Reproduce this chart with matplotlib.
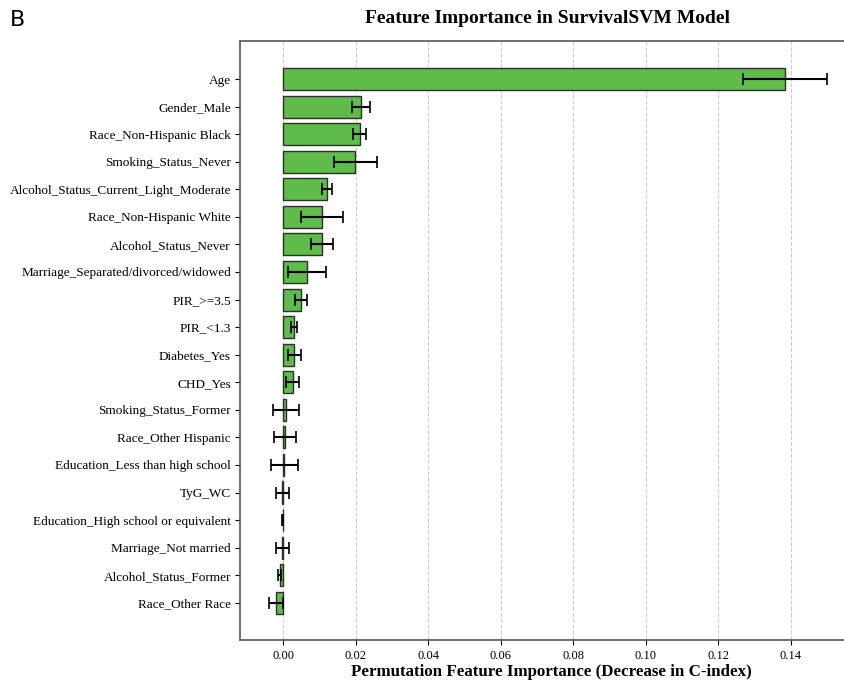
import matplotlib
matplotlib.use("Agg")
import matplotlib.pyplot as plt
import numpy as np

features = ["Age", "Gender_Male", "Race_Non-Hispanic Black", "Smoking_Status_Never",
            "Alcohol_Status_Current_Light_Moderate", "Race_Non-Hispanic White",
            "Alcohol_Status_Never", "Marriage_Separated/divorced/widowed",
            "PIR_>=3.5", "PIR_<1.3", "Diabetes_Yes", "CHD_Yes",
            "Smoking_Status_Former", "Race_Other Hispanic", "Education_Less than high school",
            "TyG_WC", "Education_High school or equivalent", "Marriage_Not married",
            "Alcohol_Status_Former", "Race_Other Race"]
importance = [0.1385, 0.0215, 0.0212, 0.0199, 0.0121, 0.0108, 0.0107, 0.0066,
              0.0049, 0.0031, 0.0031, 0.0027, 0.0008, 0.0005, 0.0003,
              -0.0002, -0.0001, -0.0002, -0.0010, -0.0019]
std = [0.0117, 0.0026, 0.0018, 0.0059, 0.0015, 0.0058, 0.0030, 0.0052,
       0.0016, 0.0008, 0.0017, 0.0018, 0.0036, 0.0030, 0.0037,
       0.0018, 0.0001, 0.0017, 0.0003, 0.0020]
xticks = [0.00, 0.02, 0.04, 0.06, 0.08, 0.10, 0.12, 0.14]

plt.rcParams['font.family'] = ['Liberation Serif', 'DejaVu Serif']

fig = plt.figure(figsize=(8.45, 6.85), dpi=100)
ax = fig.add_axes([240/845, 45/685, 623/845, (640-41)/685])

y = np.arange(len(features))
ax.barh(y, importance, xerr=std, height=0.8, color='#5fbb4a', edgecolor='#2e2e2e',
        linewidth=1.0, capsize=4, error_kw=dict(ecolor='black', elinewidth=1.5, capthick=1.2),
        zorder=3)
ax.set_yticks(y)
ax.set_yticklabels(features, fontsize=9.5)
ax.tick_params(axis='y', pad=3)
ax.set_ylim(19 + 1.35, -1.38)
ax.set_xticks(xticks)
ax.set_xticklabels([f"{t:.2f}" for t in xticks], fontsize=9)
ax.set_xlim(-0.0119, 0.16)
ax.grid(axis='x', linestyle='--', color='#cccccc', linewidth=0.8, zorder=0)
for s in ['left', 'bottom', 'top', 'right']:
    ax.spines[s].set_color('#555555')
    ax.spines[s].set_linewidth(1.2)
ax.set_xlabel("Permutation Feature Importance (Decrease in C-index)", fontsize=12.2,
              fontweight='bold', labelpad=2)
fig.text(0.648, 0.985, "Feature Importance in SurvivalSVM Model", fontsize=14,
         fontweight='bold', ha='center', va='top')
fig.text(0.012, 0.985, "B", fontsize=16, family='DejaVu Sans', ha='left', va='top')

fig.savefig("out.png", dpi=100)
